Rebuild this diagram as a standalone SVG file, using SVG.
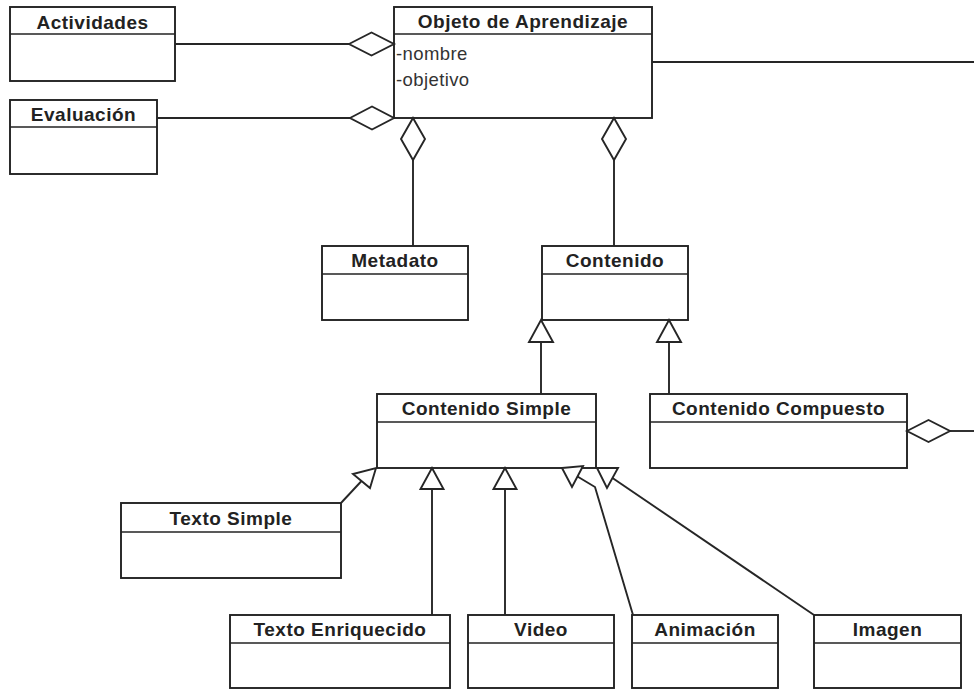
<svg xmlns="http://www.w3.org/2000/svg" width="974" height="690" viewBox="0 0 974 690">
  <style>
    .box { fill: #ffffff; stroke: #222222; stroke-width: 1.9; }
    .sep { stroke: #222222; stroke-width: 1.7; }
    .title { font-family: "Liberation Sans", Arial, sans-serif; font-weight: bold; font-size: 19px; letter-spacing: 0.5px; fill: #222; text-anchor: middle; }
    .attr { font-family: "Liberation Sans", Arial, sans-serif; font-size: 18.5px; letter-spacing: 0.4px; fill: #333; }
    .edge { fill: none; stroke: #262626; stroke-width: 1.9; }
    .head { fill: #ffffff; stroke: #262626; stroke-width: 1.9; stroke-linejoin: miter; }
  </style>
  <rect width="974" height="690" fill="#ffffff"/>

  <!-- class boxes -->
  <g id="actividades">
    <rect class="box" x="10" y="7" width="165" height="74"/>
    <line class="sep" x1="10" y1="34" x2="175" y2="34"/>
    <text class="title" x="92.5" y="29">Actividades</text>
  </g>
  <g id="evaluacion">
    <rect class="box" x="10" y="100" width="147" height="74"/>
    <line class="sep" x1="10" y1="127" x2="157" y2="127"/>
    <text class="title" x="83.5" y="121">Evaluación</text>
  </g>
  <g id="objeto-aprendizaje">
    <rect class="box" x="394" y="7" width="258" height="111"/>
    <line class="sep" x1="394" y1="34" x2="652" y2="34"/>
    <text class="title" x="523" y="28">Objeto de Aprendizaje</text>
    <text class="attr" x="396" y="60">-nombre</text>
    <text class="attr" x="396" y="86">-objetivo</text>
  </g>
  <g id="metadato">
    <rect class="box" x="322" y="246" width="146" height="74"/>
    <line class="sep" x1="322" y1="274" x2="468" y2="274"/>
    <text class="title" x="395" y="267">Metadato</text>
  </g>
  <g id="contenido">
    <rect class="box" x="542" y="246" width="146" height="74"/>
    <line class="sep" x1="542" y1="274" x2="688" y2="274"/>
    <text class="title" x="615" y="267">Contenido</text>
  </g>
  <g id="contenido-simple">
    <rect class="box" x="377" y="394" width="219" height="74"/>
    <line class="sep" x1="377" y1="422" x2="596" y2="422"/>
    <text class="title" x="486.5" y="415">Contenido Simple</text>
  </g>
  <g id="contenido-compuesto">
    <rect class="box" x="650" y="394" width="257" height="74"/>
    <line class="sep" x1="650" y1="422" x2="907" y2="422"/>
    <text class="title" x="778.5" y="415">Contenido Compuesto</text>
  </g>
  <g id="texto-simple">
    <rect class="box" x="121" y="503" width="220" height="75"/>
    <line class="sep" x1="121" y1="532" x2="341" y2="532"/>
    <text class="title" x="231" y="525">Texto Simple</text>
  </g>
  <g id="texto-enriquecido">
    <rect class="box" x="230" y="615" width="220" height="73"/>
    <line class="sep" x1="230" y1="643" x2="450" y2="643"/>
    <text class="title" x="340" y="636">Texto Enriquecido</text>
  </g>
  <g id="video">
    <rect class="box" x="468" y="615" width="146" height="73"/>
    <line class="sep" x1="468" y1="643" x2="614" y2="643"/>
    <text class="title" x="541" y="636">Video</text>
  </g>
  <g id="animacion">
    <rect class="box" x="632" y="615" width="146" height="73"/>
    <line class="sep" x1="632" y1="643" x2="778" y2="643"/>
    <text class="title" x="705" y="636">Animación</text>
  </g>
  <g id="imagen">
    <rect class="box" x="814" y="615" width="147" height="73"/>
    <line class="sep" x1="814" y1="643" x2="961" y2="643"/>
    <text class="title" x="887.5" y="636">Imagen</text>
  </g>

  <!-- connectors: aggregations (hollow diamonds) and generalizations (hollow triangles) -->
  <g id="connectors">
    <!-- aggregations -->
    <line class="edge" x1="175" y1="44" x2="349" y2="44"/>
    <polygon class="head" points="349,44 371.5,32.5 394,44 371.5,55.5"/>
    <line class="edge" x1="157" y1="118" x2="350" y2="118"/>
    <polygon class="head" points="350,118 372,106.5 394,118 372,129.5"/>
    <polygon class="head" points="413,118 425,139 413,160 401,139"/>
    <line class="edge" x1="413" y1="160" x2="413" y2="246"/>
    <polygon class="head" points="614,118 626,139 614,160 602,139"/>
    <line class="edge" x1="614" y1="160" x2="614" y2="246"/>
    <line class="edge" x1="652" y1="62" x2="974" y2="62"/>
    <polygon class="head" points="907,431 928.5,420 950,431 928.5,442"/>
    <line class="edge" x1="950" y1="431" x2="974" y2="431"/>

    <!-- generalizations to Contenido -->
    <polygon class="head" points="541,320 553,342 529,342"/>
    <line class="edge" x1="541" y1="342" x2="541" y2="394"/>
    <polygon class="head" points="669,320 681,342 657,342"/>
    <line class="edge" x1="669" y1="342" x2="669" y2="394"/>

    <!-- generalizations to Contenido Simple -->
    <polygon class="head" points="376,468 370,488 353,474"/>
    <line class="edge" x1="361.5" y1="481" x2="341" y2="503"/>
    <polygon class="head" points="432,468 443.5,489 420.5,489"/>
    <line class="edge" x1="432" y1="489" x2="432" y2="615"/>
    <polygon class="head" points="505,468 516.5,489 493.5,489"/>
    <line class="edge" x1="505" y1="489" x2="505" y2="615"/>
    <polygon class="head" points="562,468 583,466 572,487"/>
    <polyline class="edge" points="577.5,476.5 595,487 633,615"/>
    <polygon class="head" points="597,468 618,468 607,488"/>
    <line class="edge" x1="612.5" y1="478" x2="814" y2="615"/>
  </g>
</svg>
